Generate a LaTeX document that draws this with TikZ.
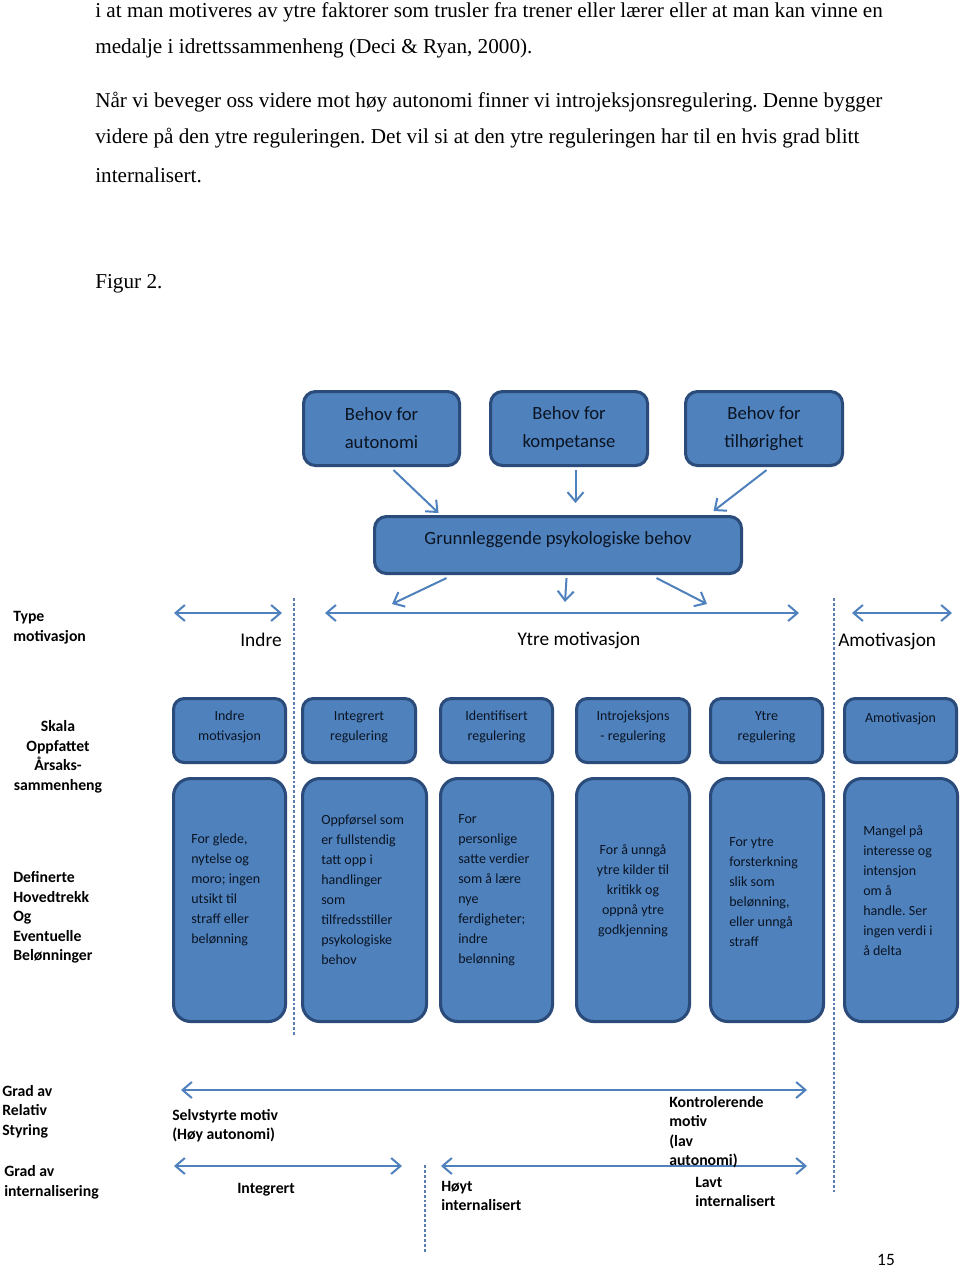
\documentclass[tikz,border=0pt]{standalone}
\usepackage{fontspec}
\setmainfont{Liberation Serif}
\newfontfamily\calfont{Carlito}
\usetikzlibrary{arrows.meta,calc}
\definecolor{boxfill}{HTML}{4F81BD}
\definecolor{boxline}{HTML}{2B4C7A}
\definecolor{boxtext}{HTML}{0A1422}
\definecolor{arrcol}{HTML}{4F81BD}
\definecolor{dashcol}{HTML}{5A7DB0}
\frenchspacing
\begin{document}
\begin{tikzpicture}[x=0.75pt,y=-0.75pt,
 box/.style={draw=boxline, line width=2.3pt, fill=boxfill, rounded corners=8pt, inner sep=0pt, anchor=north west, text=boxtext, font=\calfont\fontsize{10.5}{15}\selectfont, align=center},
 bigbox/.style={box, rounded corners=9pt, font=\calfont\fontsize{14}{21}\selectfont},
 tallbox/.style={box, rounded corners=13pt},
 bodytxt/.style={anchor=west, inner sep=0pt, align=left, text=boxtext, font=\calfont\fontsize{10.5}{15}\selectfont},
 lbl/.style={inner sep=0pt, align=left, font=\calfont\bfseries\fontsize{11.8}{14.6}\selectfont},
 typ/.style={inner sep=0pt, font=\calfont\fontsize{14.5}{17}\selectfont},
 para/.style={anchor=west, inner sep=0pt, font=\fontsize{15.9}{19}\selectfont},
 arr/.style={draw=arrcol, line width=1.5pt, -{Straight Barb[length=7pt,width=12pt]}},
 darr/.style={draw=arrcol, line width=1.5pt, {Straight Barb[length=7pt,width=12pt]}-{Straight Barb[length=7pt,width=12pt]}},
 vdash/.style={draw=dashcol, line width=0.8pt, dash pattern=on 2.2pt off 1.5pt}
]
\useasboundingbox[fill=white] (0,0) rectangle (960,1268);

% paragraph text
\node[para] (p1) at (95,12) {i at man motiveres av ytre faktorer som trusler fra trener eller lærer eller at man kan vinne en};
\node[para] (p2) at (95,48) {medalje i idrettssammenheng (Deci \& Ryan, 2000).};
\node[para] (p3) at (95,102) {Når vi beveger oss videre mot høy autonomi finner vi introjeksjonsregulering. Denne bygger};
\node[para] (p4) at (95,138) {videre på den ytre reguleringen. Det vil si at den ytre reguleringen har til en hvis grad blitt};
\node[para] (p5) at (95,175) {internalisert.};
\node[para] (fig) at (95,284) {Figur 2.};

% top boxes
\node[bigbox, minimum width=117pt, minimum height=55.5pt] (aut) at (302,390) {Behov for\\autonomi};
\node[bigbox, minimum width=117.75pt, minimum height=55.5pt] (komp) at (489,390) {Behov for\\kompetanse};
\node[bigbox, minimum width=117.75pt, minimum height=55.5pt] (tilh) at (684,390) {Behov for\\tilhørighet};
\node[bigbox, minimum width=275.25pt, minimum height=42.75pt] (grunn) at (373,515) {Grunnleggende psykologiske behov\\[-16.8pt]\strut};

\draw[arr] ($(aut.south)+(12,3)$) -- ($(grunn.north)+(-119.5,-2)$);
\draw[arr] ($(komp.south)+(6.5,3)$) -- ($(grunn.north)+(17.5,-12)$);
\draw[arr] ($(tilh.south)+(2.5,3)$) -- ($(grunn.north)+(155.5,-4)$);

\coordinate (g1) at (392,604);
\coordinate (g2) at (565,602);
\coordinate (g3) at (707,604);
\draw[arr] ($(grunn.south)+(-111.5,3)$) -- (g1);
\draw[arr] ($(grunn.south)+(8.5,3)$) -- (g2);
\draw[arr] ($(grunn.south)+(98.5,3)$) -- (g3);

% type motivation arrows
\coordinate (ia) at (174,613); \coordinate (ib) at (282,613);
\coordinate (ya) at (325,613); \coordinate (yb) at (799,613);
\coordinate (aa) at (852,613); \coordinate (ab) at (952,613);
\draw[darr] (ia) -- (ib);
\draw[darr] (ya) -- (yb);
\draw[darr] (aa) -- (ab);

% dashed lines
\coordinate (d1a) at (294,598); \coordinate (d1b) at (294,1035);
\coordinate (d2a) at (834,598); \coordinate (d2b) at (834,1192);
\coordinate (d3a) at (425,1165); \coordinate (d3b) at (425,1252);
\draw[vdash] (d1a) -- (d1b);
\draw[vdash] (d2a) -- (d2b);
\draw[vdash] (d3a) -- (d3b);

\node[lbl, anchor=west] (typem) at (13,627.5) {Type\\motivasjon};
\node[typ] (indre) at (261,640) {Indre};
\node[typ] (ytre) at (579,640) {Ytre motivasjon};
\node[typ, anchor=west] (amot) at (838,641) {Amotivasjon};

% row 1 boxes
\node[box, minimum width=84pt, minimum height=48pt] (a1) at (172,697) {Indre\\motivasjon\\[-12.5pt]\strut};
\node[box, minimum width=84.75pt, minimum height=48pt] (a2) at (301,697) {Integrert\\regulering\\[-12.5pt]\strut};
\node[box, minimum width=84pt, minimum height=48pt] (a3) at (439,697) {Identifisert\\regulering\\[-12.5pt]\strut};
\node[box, minimum width=84.75pt, minimum height=48pt] (a4) at (575,697) {Introjeksjons\\- regulering\\[-12.5pt]\strut};
\node[box, minimum width=84pt, minimum height=48pt] (a5) at (709,697) {Ytre\\regulering\\[-12.5pt]\strut};
\node[box, minimum width=84pt, minimum height=48pt] (a6) at (843,697) {Amotivasjon\\\strut};

% row 2 boxes
\node[tallbox, minimum width=84pt, minimum height=182.25pt] (b1) at (172,777) {};
\node[tallbox, minimum width=93pt, minimum height=182.25pt] (b2) at (301,777) {};
\node[tallbox, minimum width=84pt, minimum height=182.25pt] (b3) at (439,777) {};
\node[tallbox, minimum width=84.75pt, minimum height=182.25pt] (b4) at (575,777) {};
\node[tallbox, minimum width=84.75pt, minimum height=182.25pt] (b5) at (709,777) {};
\node[tallbox, minimum width=84.75pt, minimum height=182.25pt] (b6) at (843,777) {};

\node[bodytxt] (b1t) at ($(b1.west)+(19,-10)$) {For glede,\\nytelse og\\moro; ingen\\utsikt til\\straff eller\\belønning};
\node[bodytxt] (b2t) at ($(b2.west)+(20,-10)$) {Oppførsel som\\er fullstendig\\tatt opp i\\handlinger\\som\\tilfredsstiller\\psykologiske\\behov};
\node[bodytxt] (b3t) at ($(b3.west)+(19,-10)$) {For\\personlige\\satte verdier\\som å lære\\nye\\ferdigheter;\\indre\\belønning};
\node[bodytxt, anchor=center, align=center] (b4t) at ($(b4.center)+(0,-9)$) {For å unngå\\ytre kilder til\\kritikk og\\oppnå ytre\\godkjenning};
\node[bodytxt] (b5t) at ($(b5.west)+(20,-8)$) {For ytre\\forsterkning\\slik som\\belønning,\\eller unngå\\straff};
\node[bodytxt] (b6t) at ($(b6.west)+(20,-9)$) {Mangel på\\interesse og\\intensjon\\om å\\handle. Ser\\ingen verdi i\\å delta};

% left labels
\node[lbl, align=center] (skala) at (58,757) {Skala\\Oppfattet\\Årsaks-\\sammenheng};
\node[lbl, anchor=west] (defin) at (13,917.5) {Definerte\\Hovedtrekk\\Og\\Eventuelle\\Belønninger};

% bottom section
\coordinate (ra) at (181,1090); \coordinate (rb) at (807,1090);
\coordinate (ka) at (174,1166); \coordinate (kb) at (402,1166);
\coordinate (la) at (441,1166); \coordinate (lb) at (807,1166);
\draw[darr] (ra) -- (rb);
\draw[darr] (ka) -- (kb);
\draw[darr] (la) -- (lb);

\node[lbl, anchor=west] (grad1) at (2,1111.5) {Grad av\\Relativ\\Styring};
\node[lbl, anchor=west] (grad2) at (4,1182.5) {Grad av\\internalisering};
\node[lbl, anchor=west] (selv) at (172,1125.5) {Selvstyrte motiv\\(Høy autonomi)};
\node[lbl, anchor=west] (kontr) at (669,1132) {Kontrolerende\\motiv\\(lav\\autonomi)};
\node[lbl, anchor=west] (integ) at (237,1190) {Integrert};
\node[lbl, anchor=west] (hoyt) at (441,1196) {Høyt\\internalisert};
\node[lbl, anchor=west] (lavt) at (695,1192) {Lavt\\internalisert};

\node[typ, font=\calfont\fontsize{13}{15}\selectfont] (page) at (886,1260) {15};
\end{tikzpicture}
\end{document}
